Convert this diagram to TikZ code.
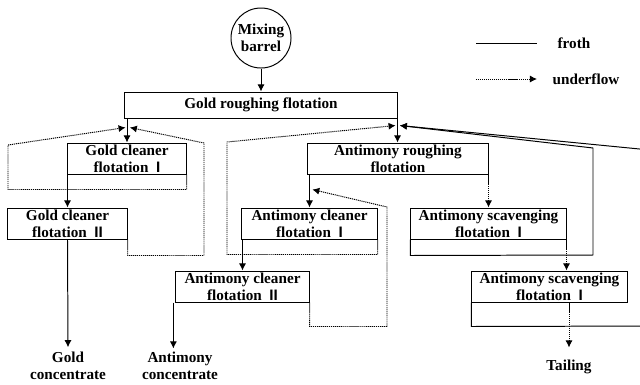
\documentclass[tikz,border=0pt]{standalone}
\usepackage{fontspec}
\setmainfont{Liberation Serif}
\setsansfont{Liberation Sans}
\usepackage{tikz}
\usetikzlibrary{arrows.meta, positioning, calc}
\tikzstyle{froth} = [line width=0.7pt,-{Latex[length=5pt,width=5pt]}]
\tikzstyle{under} = [froth, dash pattern=on 0.8pt off 0.6pt]
\tikzstyle{unit} = [rectangle, draw=black, line width=0.7pt, minimum height=0.775cm, inner sep=0pt, align=center, font=\fontsize{10.8}{12}\selectfont\bfseries]
\tikzstyle{outtext} = [align=center, font=\fontsize{10.8}{12}\selectfont\bfseries]

\begin{document}
\begin{tikzpicture}[x=0.025cm, y=-0.025cm]
    \useasboundingbox (0,0) rectangle (640,384);
    \clip (0,0) rectangle (640,384);

    % Legend
    \coordinate (fa) at (476,43);
    \coordinate (fb) at (537,43);
    \coordinate (ua) at (476,79);
    \coordinate (ub) at (537,79);
    \draw[line width=0.7pt] (fa) -- (fb);
    \draw[under] (ua) -- (ub);
    \node[outtext] (lfroth) at (574,43) {froth};
    \node[outtext] (lunder) at (586,79) {underflow};

    % Feed and gold circuit
    \node[unit, circle, minimum size=1.5cm] (barrel) at (261,38) {Mixing\\barrel};
    \node[unit, minimum width=6.8cm, minimum height=0.65cm] (groughing) at (261,105) {Gold roughing flotation};
    \node[unit, minimum width=2.95cm] (gclean1) at (127,158.5) {Gold cleaner\\flotation \ \textsf{I}};
    \node[unit, minimum width=2.975cm] (gclean2) at (67.5,223.5) {Gold cleaner\\flotation \ \textsf{II}};

    % Antimony circuit
    \node[unit, minimum width=4.5cm] (sbrough) at (398,158.5) {Antimony roughing\\flotation};
    \node[unit, minimum width=3.375cm] (sbclean1) at (309.5,223.5) {Antimony cleaner\\flotation \ \textsf{I}};
    \node[unit, minimum width=3.325cm] (sbclean2) at (242.5,286.5) {Antimony cleaner\\flotation \ \textsf{II}};
    \node[unit, minimum width=3.875cm] (scav1) at (488.5,223.5) {Antimony scavenging\\flotation \ \textsf{I}};
    \node[unit, minimum width=3.875cm] (scav2) at (549.5,286.5) {Antimony scavenging\\flotation \ \textsf{I}};

    % Products
    \node[outtext] (goldc) at (68,366) {Gold\\concentrate};
    \node[outtext] (antc) at (180,366) {Antimony\\concentrate};
    \node[outtext] (tail) at (569,367) {Tailing};

    % Junctions
    \coordinate (j1) at ($(gclean1.north)+(0,-15)$);
    \coordinate (j2) at ($(sbrough.north)+(-1,-17)$);
    \coordinate (j3) at ($(sbclean1.north)+(0,-18)$);

    % Froth
    \draw[froth] (barrel) -- (groughing);
    \draw[froth] (gclean1.north |- groughing.south) -- (gclean1.north);
    \draw[froth] (gclean2.north |- gclean1.south) -- (gclean2.north);
    \draw[froth] (gclean2.south) -- (goldc.north);
    \draw[froth] (groughing.south east) -- (groughing.south east |- sbrough.north);
    \draw[froth] (sbclean1.north |- sbrough.south) -- (sbclean1.north);
    \draw[froth] (sbclean2.north |- sbclean1.south) -- (sbclean2.north);
    \draw[froth] ([xshift=-1.5pt]sbclean2.south west) -- ++(0,46);
    \draw[froth] (scav1.south west) -- ++(0,16) -- (593,255) -- (593,148) -- ([xshift=2pt]j2);
    \draw[froth] (scav2.south west) -- ++(0,24) -- (660,326) -- (660,151) -- ([xshift=2pt]j2);

    % Underflow
    \draw[under] (gclean1.south east) -- ++(0,15) -| (8,145) -- ([xshift=-1pt]j1);
    \draw[under] (gclean2.south east) -- ++(0,16) -| (204,143) -- ([xshift=2pt]j1);
    \draw[under] (sbclean1.south east) -- ++(0,15) -| (227,142) -- ([xshift=-1pt]j2);
    \draw[under] (sbclean2.south east) -- ++(0,24) -| (387,207) -- ([xshift=2pt]j3);
    \draw[under] (sbrough.south east) -- (sbrough.south east |- scav1.north);
    \draw[under] (scav1.south east) -- (scav1.south east |- scav2.north);
    \draw[under] (tail.north |- scav2.south) -- ++(0,45);

\end{tikzpicture}
\end{document}
